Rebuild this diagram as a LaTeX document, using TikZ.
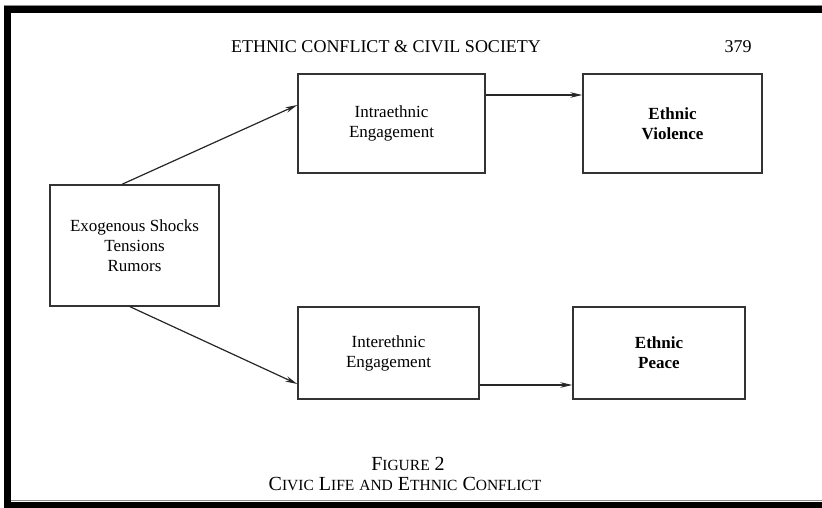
\documentclass[tikz,border=0pt]{standalone}
\usepackage{fontspec}
\setmainfont{Liberation Serif}
\usetikzlibrary{arrows.meta}
\newcommand{\fsc}[2]{#1{\fontsize{15.5}{18}\selectfont #2}}
\begin{document}
\begin{tikzpicture}[x=1pt,y=-1pt,>={Stealth[length=12pt,width=5.5pt]}]
\tikzstyle{box}=[draw=black!80,line width=1.4pt,align=center,font=\fontsize{17}{20}\selectfont,inner sep=0pt]
\tikzstyle{conn}=[draw=black!85,line width=1.2pt]
    \useasboundingbox (0,0) rectangle (822,508);
    % frame
    \fill (4,6) rectangle (822,13);
    \fill (4,6) rectangle (11,508);
    \fill (4,501.5) rectangle (822,508);
    \draw [black!45,line width=0.8pt] (4,5) -- (822,5);
    \draw [black!45,line width=0.8pt] (11,500.7) -- (822,500.7);
    % running head
    \node (head) at (386,47) {\fontsize{18}{20}\selectfont ETHNIC CONFLICT \& CIVIL SOCIETY};
    \node (page) at (738,47) {\fontsize{18}{20}\selectfont 379};
    % boxes
    \node [box,minimum width=169pt,minimum height=121pt] (shocks) at (134.5,245.5) {Exogenous Shocks\\Tensions\\Rumors};
    \node [box,minimum width=187pt,minimum height=99pt] (intra) at (391.5,123.5) {Intraethnic\\Engagement};
    \node [box,minimum width=179pt,minimum height=99pt] (violence) at (672.5,123.5) {\bfseries Ethnic\\\bfseries Violence};
    \node [box,minimum width=181pt,minimum height=92pt] (inter) at (388.5,353) {Interethnic\\Engagement};
    \node [box,minimum width=172pt,minimum height=92pt] (peace) at (659,353) {\bfseries Ethnic\\\bfseries Peace};
    % connectors
    \draw [conn,->] ([xshift=-12.5pt]shocks.north) to ([yshift=18.5pt]intra.west);
    \draw [conn,->] ([xshift=-4.5pt]shocks.south) to ([yshift=-31pt]inter.west);
    \draw [conn,->] ([yshift=28.5pt]intra.east) to ([yshift=28.5pt]violence.west);
    \draw [conn,->] ([yshift=-32pt]inter.east) to ([yshift=-32pt]peace.west);
    % caption
    \node (fig) at (408,464) {\fontsize{20}{22}\selectfont\fsc{F}{IGURE} 2};
    \node (title) at (405,484) {\fontsize{20}{22}\selectfont\fsc{C}{IVIC} \fsc{L}{IFE} \fsc{}{AND} \fsc{E}{THNIC} \fsc{C}{ONFLICT}};
\end{tikzpicture}
\end{document}
